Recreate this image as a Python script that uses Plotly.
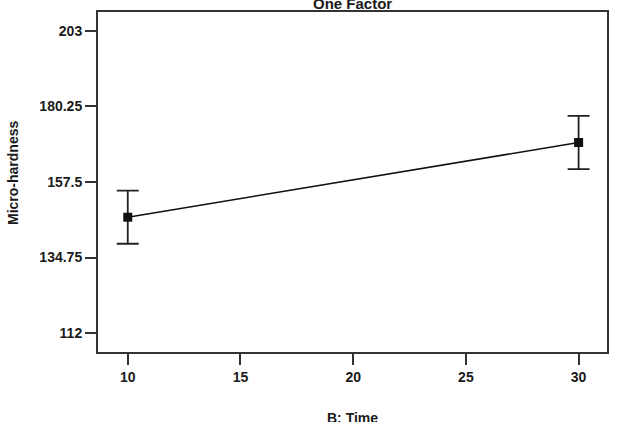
import plotly.graph_objects as go

time_vals = [10, 30]
hardness = [146.9, 169.4]
err = [8.0, 8.0]
y_ticks = [112, 134.75, 157.5, 180.25, 203]
y_tick_text = ["112", "134.75", "157.5", "180.25", "203"]
x_ticks = [10, 15, 20, 25, 30]

fam = "Liberation Sans, Arial, sans-serif"
font = dict(family=fam, size=14, color="#1a1a1a", weight="bold")

fig = go.Figure()
fig.add_trace(go.Scatter(
    x=time_vals, y=hardness, mode="lines+markers",
    line=dict(color="#111", width=1.6),
    marker=dict(symbol="square", size=9, color="#111"),
    error_y=dict(type="data", array=err, visible=True, color="#222", thickness=1.8, width=11),
    showlegend=False,
))

axis_common = dict(showline=True, linecolor="#333", linewidth=2, mirror=True,
                   ticks="outside", ticklen=11, tickwidth=2, tickcolor="#333",
                   showgrid=False, zeroline=False, tickfont=font)

fig.update_layout(
    width=618, height=422,
    margin=dict(l=98, r=9, t=12, b=70),
    paper_bgcolor="white", plot_bgcolor="white",
    xaxis=dict(range=[8.68, 31.26], tickvals=x_ticks, **axis_common),
    yaxis=dict(range=[106.3, 208.7], tickvals=y_ticks, ticktext=y_tick_text, **axis_common),
    font=font,
    annotations=[
        dict(text="One Factor", xref="paper", yref="paper", x=0.5, y=1, xanchor="center",
             yanchor="middle", yshift=9, showarrow=False,
             font=dict(family=fam, size=15, color="#1a1a1a", weight="bold")),
        dict(text="B: Time", xref="paper", yref="paper", x=0.5, y=0, xanchor="center",
             yanchor="middle", yshift=-66, showarrow=False,
             font=dict(family=fam, size=14, color="#1a1a1a", weight="bold")),
        dict(text="Micro-hardness", xref="paper", yref="paper", x=0, y=0.5, xanchor="center",
             yanchor="middle", xshift=-85, yshift=9, textangle=-90, showarrow=False,
             font=dict(family=fam, size=14, color="#1a1a1a", weight="bold")),
    ],
)

fig.write_html("out.html")
